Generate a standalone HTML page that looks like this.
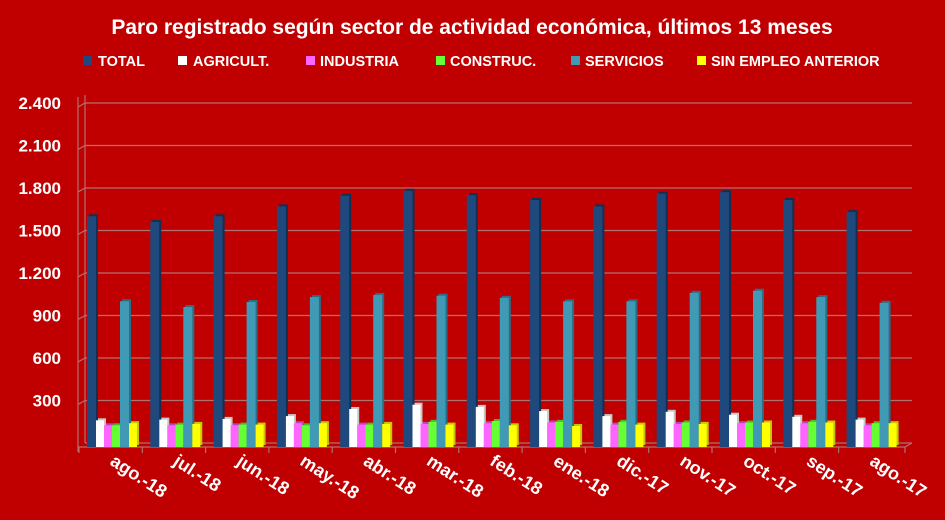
<!DOCTYPE html>
<html><head><meta charset="utf-8"><style>
html,body{margin:0;padding:0;background:#c00000;}
svg{display:block;font-family:"Liberation Sans",Arial,sans-serif;font-weight:bold;}
.t{fill:#1f497d}.td{fill:#132f52}
.w{fill:#fff}.wd{fill:#c8c8c8}
.p{fill:#ff66ff}.pd{fill:#c040c0}
.g{fill:#66ff33}.gd{fill:#40c020}
.s{fill:#4099b5}.sd{fill:#2a6f85}
.y{fill:#ffff00}.yd{fill:#c8c800}
</style></head><body>
<svg width="945" height="520" viewBox="0 0 945 520" xmlns="http://www.w3.org/2000/svg">
<defs>
<g id="dummy"></g>
</defs>
<rect width="945" height="520" fill="#c00000"/>
<text x="472" y="34" fill="#fff" font-size="21" text-anchor="middle">Paro registrado según sector de actividad económica, últimos 13 meses</text>
<g font-size="14.5" fill="#fff">
<rect x="83" y="56" width="9" height="9" fill="#1f497d"/><text x="98" y="66">TOTAL</text>
<rect x="178" y="56" width="9" height="9" fill="#fff"/><text x="193" y="66">AGRICULT.</text>
<rect x="306" y="56" width="9" height="9" fill="#ff66ff"/><text x="320" y="66">INDUSTRIA</text>
<rect x="436" y="56" width="9" height="9" fill="#66ff33"/><text x="450" y="66">CONSTRUC.</text>
<rect x="571" y="56" width="9" height="9" fill="#4099b5"/><text x="585" y="66">SERVICIOS</text>
<rect x="697" y="56" width="9" height="9" fill="#ffff00"/><text x="711" y="66">SIN EMPLEO ANTERIOR</text>
</g>
<g stroke="#b07070" stroke-width="1.2">
<line x1="85" y1="103" x2="912" y2="103"/><line x1="85" y1="145.5" x2="912" y2="145.5"/><line x1="85" y1="188" x2="912" y2="188"/><line x1="85" y1="230.5" x2="912" y2="230.5"/><line x1="85" y1="273" x2="912" y2="273"/><line x1="85" y1="315.5" x2="912" y2="315.5"/><line x1="85" y1="358" x2="912" y2="358"/><line x1="85" y1="400.5" x2="912" y2="400.5"/><line x1="85" y1="443" x2="912" y2="443"/>
<line x1="78" y1="107" x2="85" y2="103"/><line x1="78" y1="149.5" x2="85" y2="145.5"/><line x1="78" y1="192" x2="85" y2="188"/><line x1="78" y1="234.5" x2="85" y2="230.5"/><line x1="78" y1="277" x2="85" y2="273"/><line x1="78" y1="319.5" x2="85" y2="315.5"/><line x1="78" y1="362" x2="85" y2="358"/><line x1="78" y1="404.5" x2="85" y2="400.5"/>
<line x1="85" y1="95" x2="85" y2="443"/><line x1="78" y1="97" x2="78" y2="452"/>
<line x1="78" y1="447" x2="905" y2="447"/><line x1="905" y1="447" x2="912" y2="443"/>
</g>
<g fill="#fff" font-size="17" text-anchor="end">
<text x="61" y="109">2.400</text><text x="61" y="151.5">2.100</text><text x="61" y="194">1.800</text><text x="61" y="236.5">1.500</text><text x="61" y="279">1.200</text><text x="61" y="321.5">900</text><text x="61" y="364">600</text><text x="61" y="406.5">300</text>
</g>

<!-- c0 ago-18 -->
<g transform="translate(79,0)">
<rect class="td" x="10" y="214.3" width="9" height="230.7"/><rect class="t" x="8" y="216.3" width="9" height="230.7"/>
<rect class="wd" x="19" y="418.3" width="8" height="26.7"/><rect class="w" x="17" y="420.3" width="8" height="26.7"/>
<rect class="pd" x="27" y="423.3" width="8" height="21.7"/><rect class="p" x="25" y="425.3" width="8" height="21.7"/>
<rect class="gd" x="35" y="423.3" width="8" height="21.7"/><rect class="g" x="33" y="425.3" width="8" height="21.7"/>
<rect class="sd" x="43" y="299.3" width="9" height="145.7"/><rect class="s" x="41" y="301.3" width="9" height="145.7"/>
<rect class="yd" x="52" y="421.2" width="8" height="23.8"/><rect class="y" x="50" y="423.2" width="8" height="23.8"/>
</g>
<!-- c1 jul-18 -->
<g transform="translate(142.3,0)">
<rect class="td" x="10" y="220" width="9" height="225"/><rect class="t" x="8" y="222" width="9" height="225"/>
<rect class="wd" x="19" y="417.6" width="8" height="27.4"/><rect class="w" x="17" y="419.6" width="8" height="27.4"/>
<rect class="pd" x="27" y="423.3" width="8" height="21.7"/><rect class="p" x="25" y="425.3" width="8" height="21.7"/>
<rect class="gd" x="35" y="422.6" width="8" height="22.4"/><rect class="g" x="33" y="424.6" width="8" height="22.4"/>
<rect class="sd" x="43" y="305" width="9" height="140"/><rect class="s" x="41" y="307" width="9" height="140"/>
<rect class="yd" x="52" y="421.9" width="8" height="23.1"/><rect class="y" x="50" y="423.9" width="8" height="23.1"/>
</g>
<!-- c2 jun-18 -->
<g transform="translate(205.6,0)">
<rect class="td" x="10" y="214.3" width="9" height="230.7"/><rect class="t" x="8" y="216.3" width="9" height="230.7"/>
<rect class="wd" x="19" y="416.9" width="8" height="28.1"/><rect class="w" x="17" y="418.9" width="8" height="28.1"/>
<rect class="pd" x="27" y="423.3" width="8" height="21.7"/><rect class="p" x="25" y="425.3" width="8" height="21.7"/>
<rect class="gd" x="35" y="422.6" width="8" height="22.4"/><rect class="g" x="33" y="424.6" width="8" height="22.4"/>
<rect class="sd" x="43" y="300" width="9" height="145"/><rect class="s" x="41" y="302" width="9" height="145"/>
<rect class="yd" x="52" y="422.6" width="8" height="22.4"/><rect class="y" x="50" y="424.6" width="8" height="22.4"/>
</g>
<!-- c3 may-18 -->
<g transform="translate(268.9,0)">
<rect class="td" x="10" y="204.4" width="9" height="240.6"/><rect class="t" x="8" y="206.4" width="9" height="240.6"/>
<rect class="wd" x="19" y="414.1" width="8" height="30.9"/><rect class="w" x="17" y="416.1" width="8" height="30.9"/>
<rect class="pd" x="27" y="421.2" width="8" height="23.8"/><rect class="p" x="25" y="423.2" width="8" height="23.8"/>
<rect class="gd" x="35" y="423.3" width="8" height="21.7"/><rect class="g" x="33" y="425.3" width="8" height="21.7"/>
<rect class="sd" x="43" y="295.1" width="9" height="149.9"/><rect class="s" x="41" y="297.1" width="9" height="149.9"/>
<rect class="yd" x="52" y="421.2" width="8" height="23.8"/><rect class="y" x="50" y="423.2" width="8" height="23.8"/>
</g>
<!-- c4 abr-18 -->
<g transform="translate(332.2,0)">
<rect class="td" x="10" y="193.8" width="9" height="251.2"/><rect class="t" x="8" y="195.8" width="9" height="251.2"/>
<rect class="wd" x="19" y="407" width="8" height="38"/><rect class="w" x="17" y="409" width="8" height="38"/>
<rect class="pd" x="27" y="422.6" width="8" height="22.4"/><rect class="p" x="25" y="424.6" width="8" height="22.4"/>
<rect class="gd" x="35" y="422.6" width="8" height="22.4"/><rect class="g" x="33" y="424.6" width="8" height="22.4"/>
<rect class="sd" x="43" y="292.9" width="9" height="152.1"/><rect class="s" x="41" y="294.9" width="9" height="152.1"/>
<rect class="yd" x="52" y="421.9" width="8" height="23.1"/><rect class="y" x="50" y="423.9" width="8" height="23.1"/>
</g>
<!-- c5 mar-18 -->
<g transform="translate(395.5,0)">
<rect class="td" x="10" y="188.8" width="9" height="256.2"/><rect class="t" x="8" y="190.8" width="9" height="256.2"/>
<rect class="wd" x="19" y="402.7" width="8" height="42.3"/><rect class="w" x="17" y="404.7" width="8" height="42.3"/>
<rect class="pd" x="27" y="421.9" width="8" height="23.1"/><rect class="p" x="25" y="423.9" width="8" height="23.1"/>
<rect class="gd" x="35" y="419.8" width="8" height="25.2"/><rect class="g" x="33" y="421.8" width="8" height="25.2"/>
<rect class="sd" x="43" y="293.7" width="9" height="151.3"/><rect class="s" x="41" y="295.7" width="9" height="151.3"/>
<rect class="yd" x="52" y="422.6" width="8" height="22.4"/><rect class="y" x="50" y="424.6" width="8" height="22.4"/>
</g>
<!-- c6 feb-18 -->
<g transform="translate(458.8,0)">
<rect class="td" x="10" y="193.1" width="9" height="251.9"/><rect class="t" x="8" y="195.1" width="9" height="251.9"/>
<rect class="wd" x="19" y="404.9" width="8" height="40.1"/><rect class="w" x="17" y="406.9" width="8" height="40.1"/>
<rect class="pd" x="27" y="421.2" width="8" height="23.8"/><rect class="p" x="25" y="423.2" width="8" height="23.8"/>
<rect class="gd" x="35" y="419" width="8" height="26"/><rect class="g" x="33" y="421" width="8" height="26"/>
<rect class="sd" x="43" y="295.8" width="9" height="149.2"/><rect class="s" x="41" y="297.8" width="9" height="149.2"/>
<rect class="yd" x="52" y="423.3" width="8" height="21.7"/><rect class="y" x="50" y="425.3" width="8" height="21.7"/>
</g>
<!-- c7 ene-18 -->
<g transform="translate(522.1,0)">
<rect class="td" x="10" y="198" width="9" height="247"/><rect class="t" x="8" y="200" width="9" height="247"/>
<rect class="wd" x="19" y="409.1" width="8" height="35.9"/><rect class="w" x="17" y="411.1" width="8" height="35.9"/>
<rect class="pd" x="27" y="420.5" width="8" height="24.5"/><rect class="p" x="25" y="422.5" width="8" height="24.5"/>
<rect class="gd" x="35" y="419.8" width="8" height="25.2"/><rect class="g" x="33" y="421.8" width="8" height="25.2"/>
<rect class="sd" x="43" y="299.3" width="9" height="145.7"/><rect class="s" x="41" y="301.3" width="9" height="145.7"/>
<rect class="yd" x="52" y="424" width="8" height="21"/><rect class="y" x="50" y="426" width="8" height="21"/>
</g>
<!-- c8 dic-17 -->
<g transform="translate(585.4,0)">
<rect class="td" x="10" y="204.4" width="9" height="240.6"/><rect class="t" x="8" y="206.4" width="9" height="240.6"/>
<rect class="wd" x="19" y="414.1" width="8" height="30.9"/><rect class="w" x="17" y="416.1" width="8" height="30.9"/>
<rect class="pd" x="27" y="422.6" width="8" height="22.4"/><rect class="p" x="25" y="424.6" width="8" height="22.4"/>
<rect class="gd" x="35" y="419.8" width="8" height="25.2"/><rect class="g" x="33" y="421.8" width="8" height="25.2"/>
<rect class="sd" x="43" y="299.3" width="9" height="145.7"/><rect class="s" x="41" y="301.3" width="9" height="145.7"/>
<rect class="yd" x="52" y="422.6" width="8" height="22.4"/><rect class="y" x="50" y="424.6" width="8" height="22.4"/>
</g>
<!-- c9 nov-17 -->
<g transform="translate(648.7,0)">
<rect class="td" x="10" y="191.7" width="9" height="253.3"/><rect class="t" x="8" y="193.7" width="9" height="253.3"/>
<rect class="wd" x="19" y="409.8" width="8" height="35.2"/><rect class="w" x="17" y="411.8" width="8" height="35.2"/>
<rect class="pd" x="27" y="421.9" width="8" height="23.1"/><rect class="p" x="25" y="423.9" width="8" height="23.1"/>
<rect class="gd" x="35" y="420.5" width="8" height="24.5"/><rect class="g" x="33" y="422.5" width="8" height="24.5"/>
<rect class="sd" x="43" y="290.8" width="9" height="154.2"/><rect class="s" x="41" y="292.8" width="9" height="154.2"/>
<rect class="yd" x="52" y="421.9" width="8" height="23.1"/><rect class="y" x="50" y="423.9" width="8" height="23.1"/>
</g>
<!-- c10 oct-17 -->
<g transform="translate(712,0)">
<rect class="td" x="10" y="190.2" width="9" height="254.8"/><rect class="t" x="8" y="192.2" width="9" height="254.8"/>
<rect class="wd" x="19" y="412.7" width="8" height="32.3"/><rect class="w" x="17" y="414.7" width="8" height="32.3"/>
<rect class="pd" x="27" y="421.2" width="8" height="23.8"/><rect class="p" x="25" y="423.2" width="8" height="23.8"/>
<rect class="gd" x="35" y="420.5" width="8" height="24.5"/><rect class="g" x="33" y="422.5" width="8" height="24.5"/>
<rect class="sd" x="43" y="288.7" width="9" height="156.3"/><rect class="s" x="41" y="290.7" width="9" height="156.3"/>
<rect class="yd" x="52" y="420.5" width="8" height="24.5"/><rect class="y" x="50" y="422.5" width="8" height="24.5"/>
</g>
<!-- c11 sep-17 -->
<g transform="translate(775.3,0)">
<rect class="td" x="10" y="198" width="9" height="247"/><rect class="t" x="8" y="200" width="9" height="247"/>
<rect class="wd" x="19" y="414.8" width="8" height="30.2"/><rect class="w" x="17" y="416.8" width="8" height="30.2"/>
<rect class="pd" x="27" y="421.2" width="8" height="23.8"/><rect class="p" x="25" y="423.2" width="8" height="23.8"/>
<rect class="gd" x="35" y="419.8" width="8" height="25.2"/><rect class="g" x="33" y="421.8" width="8" height="25.2"/>
<rect class="sd" x="43" y="295.1" width="9" height="149.9"/><rect class="s" x="41" y="297.1" width="9" height="149.9"/>
<rect class="yd" x="52" y="420.5" width="8" height="24.5"/><rect class="y" x="50" y="422.5" width="8" height="24.5"/>
</g>
<!-- c12 ago-17 -->
<g transform="translate(838.6,0)">
<rect class="td" x="10" y="210.1" width="9" height="234.9"/><rect class="t" x="8" y="212.1" width="9" height="234.9"/>
<rect class="wd" x="19" y="417.6" width="8" height="27.4"/><rect class="w" x="17" y="419.6" width="8" height="27.4"/>
<rect class="pd" x="27" y="423.3" width="8" height="21.7"/><rect class="p" x="25" y="425.3" width="8" height="21.7"/>
<rect class="gd" x="35" y="421.2" width="8" height="23.8"/><rect class="g" x="33" y="423.2" width="8" height="23.8"/>
<rect class="sd" x="43" y="300.8" width="9" height="144.2"/><rect class="s" x="41" y="302.8" width="9" height="144.2"/>
<rect class="yd" x="52" y="421.2" width="8" height="23.8"/><rect class="y" x="50" y="423.2" width="8" height="23.8"/>
</g>

<g stroke="#b07070" stroke-width="1.2">
<line x1="79" y1="447" x2="79" y2="453"/><line x1="142.3" y1="447" x2="142.3" y2="453"/><line x1="205.6" y1="447" x2="205.6" y2="453"/><line x1="268.9" y1="447" x2="268.9" y2="453"/><line x1="332.2" y1="447" x2="332.2" y2="453"/><line x1="395.5" y1="447" x2="395.5" y2="453"/><line x1="458.8" y1="447" x2="458.8" y2="453"/><line x1="522.1" y1="447" x2="522.1" y2="453"/><line x1="585.4" y1="447" x2="585.4" y2="453"/><line x1="648.7" y1="447" x2="648.7" y2="453"/><line x1="712" y1="447" x2="712" y2="453"/><line x1="775.3" y1="447" x2="775.3" y2="453"/><line x1="838.6" y1="447" x2="838.6" y2="453"/><line x1="905" y1="447" x2="905" y2="453"/>
</g>
<g fill="#fff" font-size="18">
<text transform="translate(109,464) rotate(33)">ago.-18</text>
<text transform="translate(172.3,464) rotate(33)">jul.-18</text>
<text transform="translate(235.6,464) rotate(33)">jun.-18</text>
<text transform="translate(298.9,464) rotate(33)">may.-18</text>
<text transform="translate(362.2,464) rotate(33)">abr.-18</text>
<text transform="translate(425.5,464) rotate(33)">mar.-18</text>
<text transform="translate(488.8,464) rotate(33)">feb.-18</text>
<text transform="translate(552.1,464) rotate(33)">ene.-18</text>
<text transform="translate(615.4,464) rotate(33)">dic.-17</text>
<text transform="translate(678.7,464) rotate(33)">nov.-17</text>
<text transform="translate(742,464) rotate(33)">oct.-17</text>
<text transform="translate(805.3,464) rotate(33)">sep.-17</text>
<text transform="translate(868.6,464) rotate(33)">ago.-17</text>
</g>
</svg>
</body></html>
